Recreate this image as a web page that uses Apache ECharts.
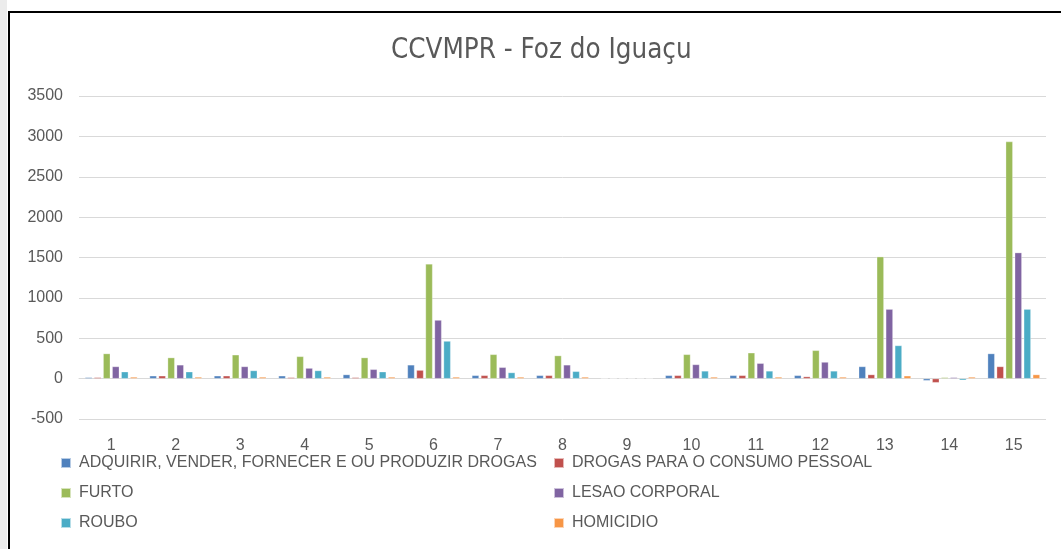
<!DOCTYPE html>
<html>
<head>
<meta charset="utf-8">
<script src="https://cdn.jsdelivr.net/npm/echarts@6/dist/echarts.min.js"></script>
<style>
html,body{margin:0;padding:0;background:#fff;}
#c{width:1061px;height:549px;}
</style>
</head>
<body>
<div id="c"></div>
<script>
const categories = ['1','2','3','4','5','6','7','8','9','10','11','12','13','14','15'];
const seriesNames = [
  'ADQUIRIR, VENDER, FORNECER E OU PRODUZIR DROGAS',
  'DROGAS PARA O CONSUMO PESSOAL',
  'FURTO',
  'LESAO CORPORAL',
  'ROUBO',
  'HOMICIDIO'
];
const adquirir = [15, 35, 35, 35, 50, 170, 40, 40, 0, 40, 40, 40, 150, -25, 310];
const drogasConsumo = [15, 35, 35, 15, 15, 105, 40, 40, 0, 40, 40, 25, 50, -50, 150];
const furto = [310, 260, 295, 275, 260, 1420, 300, 285, 0, 300, 320, 350, 1510, 15, 2935];
const lesao = [150, 170, 150, 130, 115, 725, 140, 170, 0, 175, 190, 205, 860, 15, 1560];
const roubo = [85, 85, 100, 100, 85, 465, 75, 90, 0, 95, 95, 95, 410, -20, 860];
const homicidio = [20, 20, 20, 20, 20, 20, 20, 20, 0, 20, 20, 20, 35, 20, 50];
const yTicks = [-500, 0, 500, 1000, 1500, 2000, 2500, 3000, 3500];

const colors = ['#4F81BD', '#C0504D', '#9BBB59', '#8064A2', '#4BACC6', '#F79646'];
const values = [adquirir, drogasConsumo, furto, lesao, roubo, homicidio];
const NARROW = "'Liberation Sans Narrow', 'DejaVu Sans Condensed', 'Liberation Sans', sans-serif";
const FONT = "'Liberation Sans', Arial, sans-serif";
const txt = '#595959';

const chart = echarts.init(document.getElementById('c'), null, {renderer: 'canvas'});
const legendCommon = {
  orient: 'vertical',
  itemWidth: 10,
  itemHeight: 10,
  itemGap: 14,
  icon: 'rect',
  textStyle: {color: txt, fontSize: 16, fontFamily: FONT, padding: [0, 0, 0, 3]}
};
chart.setOption({
  animation: false,
  backgroundColor: '#fff',
  color: colors,
  title: {
    text: 'CCVMPR - Foz do Iguaçu',
    left: 386,
    top: 32,
    textStyle: {color: txt, fontSize: 27.5, fontWeight: 'normal', fontFamily: NARROW}
  },
  legend: [
    Object.assign({}, legendCommon, {left: 55, top: 450, data: [seriesNames[0], seriesNames[2], seriesNames[4]]}),
    Object.assign({}, legendCommon, {left: 548, top: 450, data: [seriesNames[1], seriesNames[3], seriesNames[5]]})
  ],
  grid: {left: 79, right: 15, top: 96, height: 323, containLabel: false},
  xAxis: {
    type: 'category',
    data: categories,
    axisLine: {onZero: true, lineStyle: {color: '#d9d9d9', width: 1}},
    axisTick: {show: false},
    axisLabel: {color: txt, fontSize: 16, fontFamily: FONT, margin: 19},
    splitLine: {show: false}
  },
  yAxis: {
    type: 'value',
    min: yTicks[0],
    max: yTicks[yTicks.length - 1],
    interval: 500,
    axisLine: {show: false},
    axisTick: {show: false},
    axisLabel: {color: txt, fontSize: 16, fontFamily: FONT, margin: 16, formatter: v => String(v)},
    splitLine: {lineStyle: {color: '#d9d9d9', width: 1}}
  },
  series: seriesNames.map((n, i) => ({
    name: n,
    type: 'bar',
    data: values[i],
    barGap: '28%',
    barCategoryGap: '19%',
    itemStyle: {color: colors[i], borderColor: 'rgba(255,255,255,0.6)', borderWidth: 0.5}
  })),
  graphic: [
    {type: 'rect', shape: {x: 0, y: 0, width: 7, height: 549}, style: {fill: '#ececec'}},
    {type: 'line', shape: {x1: 9, y1: 11, x2: 9, y2: 549}, style: {stroke: '#000', lineWidth: 2}},
    {type: 'line', shape: {x1: 8, y1: 12, x2: 1061, y2: 12}, style: {stroke: '#000', lineWidth: 2}}
  ]
});
</script>
</body>
</html>
